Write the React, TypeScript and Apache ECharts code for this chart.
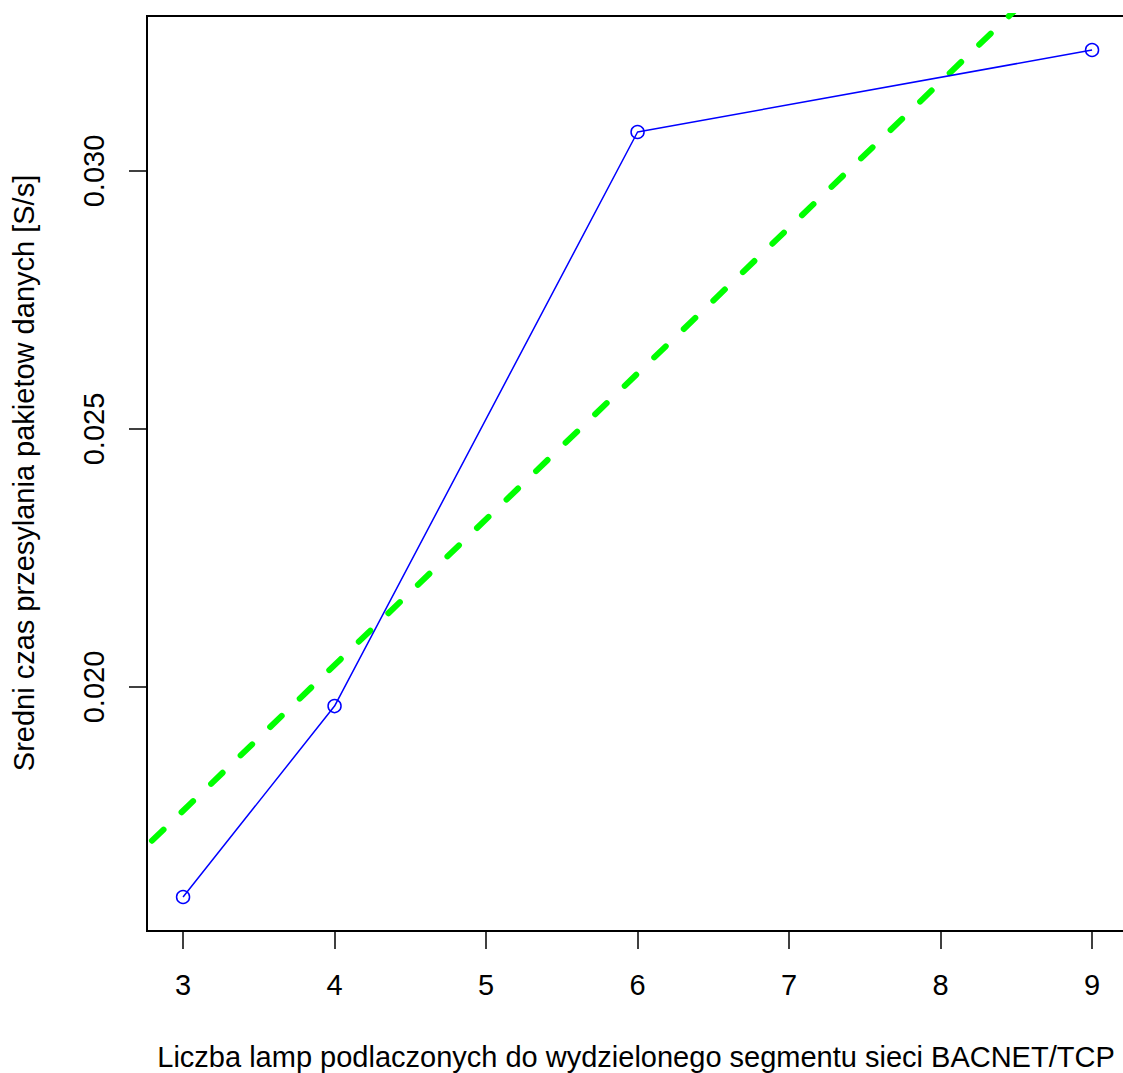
import React, { useEffect, useRef } from "react";
import * as echarts from "echarts";

const lampCounts = [3, 4, 6, 9];
const meanTimes = [0.01593, 0.01963, 0.030756, 0.032345];
const fitX = [2.6, 9.3];
const fitY = [0.01647, 0.03540];
const xTicks = [3, 4, 5, 6, 7, 8, 9];
const yTicks = [0.02, 0.025, 0.03];
const xTitle = "Liczba lamp podlaczonych do wydzielonego segmentu sieci BACNET/TCP";
const yTitle = "Sredni czas przesylania pakietow danych [S/s]";

const FONT = "'Liberation Sans', Arial, Helvetica, sans-serif";
const FS = 29;

export default function App() {
  const ref = useRef<HTMLDivElement>(null);
  useEffect(() => {
    if (!ref.current) return;
    const chart = echarts.init(ref.current, null, { renderer: "svg" });
    const gridW = 1003;
    chart.setOption({
      animation: false,
      backgroundColor: "#ffffff",
      grid: {
        left: 147,
        top: 16,
        width: gridW,
        height: 915,
        show: true,
        borderColor: "#000",
        borderWidth: 2,
        backgroundColor: "transparent",
      },
      xAxis: {
        type: "value",
        min: 2.762,
        max: 2.762 + gridW / 151.5,
        splitLine: { show: false },
        axisLine: { show: false },
        axisTick: {
          show: true,
          length: 18,
          customValues: xTicks,
          lineStyle: { color: "#000", width: 1.5 },
        },
        axisLabel: {
          customValues: xTicks,
          formatter: (v: number) => String(v),
          color: "#000",
          fontSize: FS,
          fontFamily: FONT,
          margin: 39,
        },
      },
      yAxis: {
        type: "value",
        min: 0.015271,
        max: 0.033004,
        splitLine: { show: false },
        axisLine: { show: false },
        axisTick: {
          show: true,
          length: 18,
          customValues: yTicks,
          lineStyle: { color: "#000", width: 1.5 },
        },
        axisLabel: {
          customValues: yTicks,
          formatter: (v: number) => v.toFixed(3),
          rotate: 90,
          color: "#000",
          fontSize: FS,
          fontFamily: FONT,
          margin: 39,
        },
      },
      series: [
        {
          type: "line",
          data: fitX.map((x, i) => [x, fitY[i]]),
          symbol: "none",
          clip: true,
          lineStyle: { color: "#00ff00", width: 6, type: [16, 25], cap: "round" },
          z: 2,
        },
        {
          type: "line",
          data: lampCounts.map((x, i) => [x, meanTimes[i]]),
          symbol: "circle",
          symbolSize: 13,
          lineStyle: { color: "#0000ff", width: 1.5 },
          itemStyle: { color: "rgba(0,0,0,0)", borderColor: "#0000ff", borderWidth: 1.5 },
          clip: false,
          z: 3,
        },
      ],
      graphic: [
        {
          type: "text",
          x: 636,
          y: 1057,
          style: {
            text: xTitle,
            fontSize: FS,
            fontFamily: FONT,
            fill: "#000",
            align: "center",
            verticalAlign: "middle",
          },
        },
        {
          type: "text",
          x: 24,
          y: 473,
          rotation: Math.PI / 2,
          style: {
            text: yTitle,
            fontSize: FS,
            fontFamily: FONT,
            fill: "#000",
            align: "center",
            verticalAlign: "middle",
          },
        },
      ],
    });
    return () => chart.dispose();
  }, []);
  return (
    <div
      style={{
        position: "fixed",
        left: 0,
        top: 0,
        width: 1123,
        height: 1073,
        overflow: "hidden",
        background: "#fff",
      }}
    >
      <div ref={ref} style={{ width: 1160, height: 1073 }} />
    </div>
  );
}
